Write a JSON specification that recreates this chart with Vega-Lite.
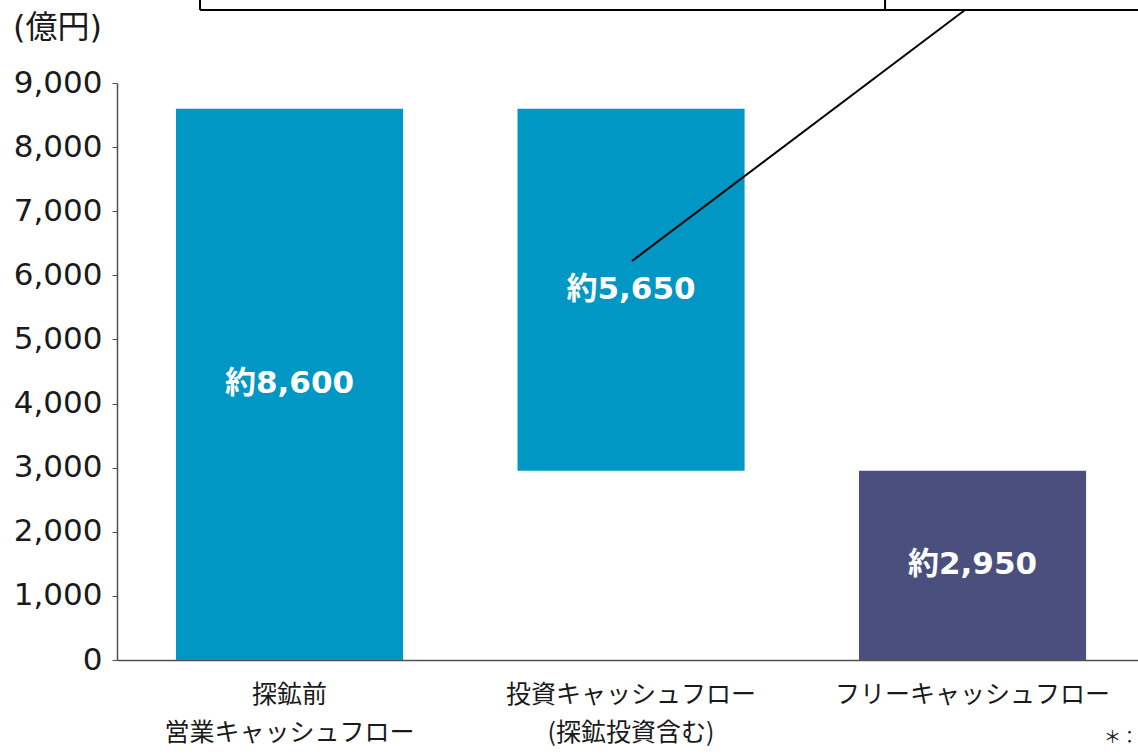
{
  "$schema": "https://vega.github.io/schema/vega-lite/v6.json",
  "autosize": {"type": "none"},
  "padding": {"left": 117, "top": 83, "right": 0, "bottom": 94},
  "width": 1021,
  "height": 577,
  "background": "white",
  "config": {
    "view": {"stroke": null},
    "font": "DejaVu Sans, Noto Sans CJK JP, sans-serif"
  },
  "resolve": {"scale": {"x": "independent"}},
  "layer": [
    {
      "data": {
        "values": [
          {"cat": "探鉱前|営業キャッシュフロー", "start": 0, "end": 8600, "label": "約8,600", "kind": "cf"},
          {"cat": "投資キャッシュフロー|(探鉱投資含む)", "start": 2950, "end": 8600, "label": "約5,650", "kind": "cf"},
          {"cat": "フリーキャッシュフロー", "start": 0, "end": 2950, "label": "約2,950", "kind": "free"}
        ]
      },
      "transform": [{"calculate": "(datum.start + datum.end) / 2", "as": "mid"}],
      "encoding": {
        "x": {
          "field": "cat", "type": "nominal", "sort": null,
          "scale": {"paddingInner": 0.335, "paddingOuter": 0.1624, "align": 0.532},
          "axis": {
            "title": null,
            "labelAngle": 0,
            "labelExpr": "split(datum.label, '|')",
            "labelFont": "Noto Sans CJK JP",
            "labelFontSize": 25,
            "labelLineHeight": 38,
            "labelLimit": 0,
            "labelColor": "#1a1a1a",
            "labelPadding": 22,
            "ticks": false,
            "domainColor": "#505050",
            "domainWidth": 1.5
          }
        }
      },
      "layer": [
        {
          "mark": {"type": "bar"},
          "encoding": {
            "y": {
              "field": "start", "type": "quantitative",
              "scale": {"domain": [0, 9000], "nice": false},
              "axis": {
                "title": "(億円)",
                "titleAngle": 0,
                "titleAlign": "center",
                "titleBaseline": "middle",
                "titleX": -60,
                "titleY": -56,
                "titleFontSize": 32,
                "titleFontWeight": "normal",
                "titleColor": "#1a1a1a",
                "titleFont": "DejaVu Sans, Noto Sans CJK JP",
                "values": [0, 1000, 2000, 3000, 4000, 5000, 6000, 7000, 8000, 9000],
                "format": ",d",
                "grid": false,
                "labelFontSize": 31,
                "labelColor": "#1a1a1a",
                "labelPadding": 10,
                "tickSize": 5,
                "tickColor": "#505050",
                "domainColor": "#505050",
                "domainWidth": 1.5
              }
            },
            "y2": {"field": "end"},
            "color": {
              "field": "kind", "type": "nominal",
              "scale": {"domain": ["cf", "free"], "range": ["#0097C4", "#4B4F7E"]},
              "legend": null
            }
          }
        },
        {
          "mark": {"type": "text", "color": "white", "fontSize": 31, "fontWeight": "bold", "baseline": "middle", "align": "center"},
          "encoding": {
            "y": {"field": "mid", "type": "quantitative", "scale": {"domain": [0, 9000], "nice": false}},
            "text": {"field": "label"}
          }
        }
      ]
    },
    {
      "data": {
        "values": [
          {"part": "box bottom", "px": 0.738, "py": 10139, "px2": 3.7, "py2": 10139},
          {"part": "box left", "px": 0.738, "py": 10139, "px2": 0.738, "py2": 12000},
          {"part": "box divider", "px": 2.744, "py": 10139, "px2": 2.744, "py2": 12000},
          {"part": "leader", "px": 2.003, "py": 6224, "px2": 2.978, "py2": 10139}
        ]
      },
      "mark": {"type": "rule", "color": "black", "strokeWidth": 2},
      "encoding": {
        "x": {"field": "px", "type": "quantitative", "scale": {"domain": [0.4949, 3.4847], "nice": false, "zero": false}, "axis": null},
        "x2": {"field": "px2"},
        "y": {"field": "py", "type": "quantitative", "scale": {"domain": [0, 9000], "nice": false}},
        "y2": {"field": "py2"}
      }
    },
    {
      "data": {"values": [{"note": "＊：", "px": 3.385, "py": -1217}]},
      "mark": {"type": "text", "align": "left", "baseline": "middle", "fontSize": 17, "color": "#1a1a1a", "font": "Noto Sans CJK JP"},
      "encoding": {
        "x": {"field": "px", "type": "quantitative", "scale": {"domain": [0.4949, 3.4847], "nice": false, "zero": false}, "axis": null},
        "y": {"field": "py", "type": "quantitative", "scale": {"domain": [0, 9000], "nice": false}},
        "text": {"field": "note"}
      }
    }
  ]
}
